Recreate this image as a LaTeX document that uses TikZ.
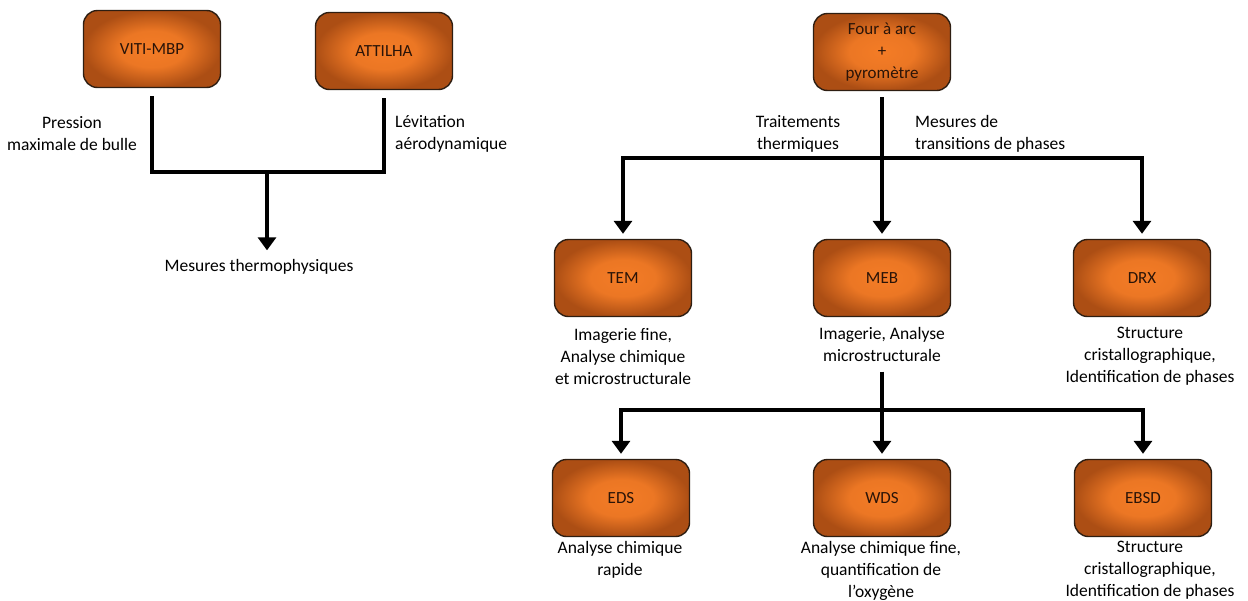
\documentclass[tikz,border=0pt]{standalone}
\usepackage{fontspec}
\setmainfont{Carlito}
\usetikzlibrary{arrows.meta,calc}
\definecolor{boxin}{HTML}{F47C26}
\definecolor{boxout}{HTML}{AC4E14}
\definecolor{boxline}{HTML}{2E1E12}
\definecolor{boxtext}{HTML}{2A1408}
\pgfdeclareradialshading{boxshade}{\pgfpoint{0bp}{0bp}}{color(0bp)=(boxin); color(12bp)=(boxin!88!boxout); color(25bp)=(boxout); color(50bp)=(boxout)}
\tikzset{
  obox/.style={rectangle, rounded corners=14pt, draw=boxline, line width=1.4pt,
    shading=boxshade, minimum width=137pt, minimum height=77pt,
    font=\fontsize{17}{22}\selectfont, text=boxtext, align=center, inner sep=2pt},
  lbl/.style={font=\fontsize{17.5}{22}\selectfont, align=center, inner sep=0pt},
  conn/.style={line width=4.2pt, line join=miter},
  arr/.style={conn, -{Triangle[width=18pt,length=13pt]}},
  barr/.style={conn, {Triangle[width=18pt,length=13pt]}-{Triangle[width=18pt,length=13pt]}}
}
\begin{document}
\begin{tikzpicture}[x=1pt,y=-1pt]
\useasboundingbox (0,0) rectangle (1248,600);
% left part
\node[obox] (viti) at (152,49) {VITI-MBP};
\node[obox] (att) at (384,51) {ATTILHA};
\node[lbl] (pres) at (72,134) {Pression\\maximale de bulle};
\node[lbl, anchor=west, align=left] (lev) at (395,134) {Lévitation\\aérodynamique};
\node[lbl] (thermo) at (259,267) {Mesures thermophysiques};
\coordinate (jl) at (267,172);
\draw[conn] ([yshift=-8pt]viti.south) -- (viti.south |- jl) -- (att.south |- jl) -- ([yshift=-8pt]att.south);
\draw[arr] (jl) -- ($(jl |- thermo.north)+(0,-9)$);
% right part
\node[obox] (four) at (882,52) {Four à arc\\+\\pyromètre};
\node[lbl] (trait) at (798,134) {Traitements\\thermiques};
\node[lbl, anchor=west, align=left] (mestr) at (915,134) {Mesures de\\transitions de phases};
\node[obox] (tem) at (623,278) {TEM};
\node[obox] (meb) at (882,278) {MEB};
\node[obox] (drx) at (1142,278) {DRX};
\coordinate (h1) at (882,158);
\draw[arr] ([yshift=-6pt]four.south) -- ([yshift=5pt]meb.north);
\draw[barr] ([yshift=5pt]tem.north) |- (h1) -| ([yshift=5pt]drx.north);
\node[lbl, anchor=north] (temt) at (623,328) {Imagerie fine,\\Analyse chimique\\et microstructurale};
\node[lbl, anchor=north] (mebt) at (882,327) {Imagerie, Analyse\\microstructurale};
\node[lbl, anchor=north] (drxt) at (1150,327) {Structure\\cristallographique,\\Identification de phases};
\node[obox] (eds) at (621,498) {EDS};
\node[obox] (wds) at (882,498) {WDS};
\node[obox] (ebsd) at (1143,498) {EBSD};
\coordinate (h2) at (882,410);
\draw[conn] ([yshift=-10pt]mebt.south) -- (h2);
\draw[arr] (h2) -- ([yshift=5pt]wds.north);
\draw[barr] ([yshift=5pt]eds.north) |- (h2) -| ([yshift=5pt]ebsd.north);
\node[lbl, anchor=north] (edst) at (620,541) {Analyse chimique\\rapide};
\node[lbl, anchor=north] (wdst) at (881,541) {Analyse chimique fine,\\quantification de\\l’oxygène};
\node[lbl, anchor=north] (ebsdt) at (1150,541) {Structure\\cristallographique,\\Identification de phases};
\end{tikzpicture}
\end{document}
